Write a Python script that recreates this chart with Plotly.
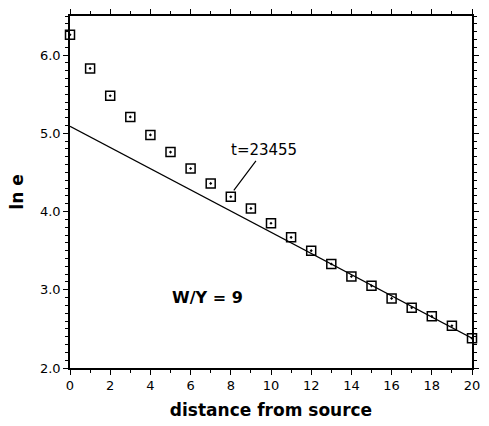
import plotly.graph_objects as go

# data
dist = list(range(0, 21))
ln_e = [6.26, 5.83, 5.48, 5.21, 4.98, 4.76, 4.55, 4.36, 4.19, 4.04, 3.85,
        3.67, 3.50, 3.33, 3.17, 3.05, 2.89, 2.77, 2.66, 2.54, 2.38]
fit_x = [0, 20]
fit_y = [5.09, 2.38]
x_ticks = list(range(0, 21, 2))
y_ticks = [2.0, 3.0, 4.0, 5.0, 6.0]

fig = go.Figure()
fig.add_trace(go.Scatter(x=fit_x, y=fit_y, mode="lines",
                         line=dict(color="black", width=1.3),
                         showlegend=False, cliponaxis=False))
fig.add_trace(go.Scatter(x=dist, y=ln_e, mode="markers",
                         marker=dict(symbol="square-open-dot", size=9, color="black",
                                     line=dict(color="black", width=1.5)),
                         showlegend=False, cliponaxis=False))

fig.add_annotation(x=8.15, y=4.27, xref="x", yref="y", text="t=23455",
                   showarrow=True, arrowhead=0, arrowwidth=1.2, arrowcolor="black",
                   ax=30, ay=-40, font=dict(family="DejaVu Sans", size=15, color="black"))
fig.add_annotation(x=0.342, y=0.2, xref="paper", yref="paper", text="<b>W/Y = 9</b>",
                   xanchor="center", yanchor="middle",
                   showarrow=False, font=dict(family="DejaVu Sans", size=16, color="black"))

axis_common = dict(showline=True, linecolor="black", linewidth=1.5, mirror="ticks",
                   ticks="outside", tickcolor="black", tickwidth=1.3, ticklen=5,
                   showgrid=False, zeroline=False,
                   tickfont=dict(family="DejaVu Sans", size=13, color="black"))

fig.update_xaxes(range=[0, 20], tickvals=x_ticks,
                 minor=dict(dtick=1, ticks="outside", ticklen=3, tickcolor="black", tickwidth=1.2),
                 title=dict(text="<b>distance from source</b>", standoff=12,
                            font=dict(family="DejaVu Sans", size=17, color="black")),
                 **axis_common)
fig.update_yaxes(range=[2.0, 6.5], tickvals=y_ticks, tickformat=".1f",
                 minor=dict(dtick=0.1, ticks="outside", ticklen=3, tickcolor="black", tickwidth=1.2),
                 title=dict(text="<b>ln e</b>", standoff=12,
                            font=dict(family="DejaVu Sans", size=17, color="black")),
                 **axis_common)

fig.update_layout(width=489, height=426, margin=dict(l=70, r=9, t=15, b=54),
                  plot_bgcolor="white", paper_bgcolor="white")
fig.write_html("out.html")
